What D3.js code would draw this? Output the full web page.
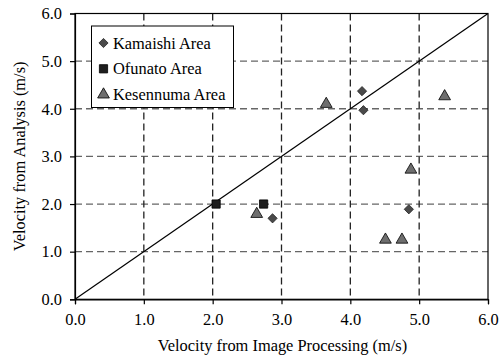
<!DOCTYPE html>
<html><head><meta charset="utf-8">
<script src="https://cdn.jsdelivr.net/npm/d3@7"></script>
<style>body{margin:0;background:#fff}svg{display:block}text{font-family:"Liberation Serif","Times New Roman",serif;fill:#000}</style>
</head><body><svg id="c" width="504" height="357"></svg>
<script>
const kamaishiX = [4.17, 4.19, 2.87, 4.85];
const kamaishiY = [4.37, 3.97, 1.70, 1.89];
const ofunatoX = [2.05, 2.74];
const ofunatoY = [2.00, 2.00];
const kesennumaX = [3.65, 5.37, 4.88, 2.64, 4.51, 4.75];
const kesennumaY = [4.10, 4.26, 2.72, 1.79, 1.25, 1.25];
const xTicks = [0, 1, 2, 3, 4, 5, 6];
const yTicks = [0, 1, 2, 3, 4, 5, 6];
const seriesNames = ["Kamaishi Area", "Ofunato Area", "Kesennuma Area"];

const FS = 16.4;
const svg = d3.select("#c");
const L = 75, R = 488, T = 13.5, B = 299.3;
const x = d3.scaleLinear().domain([0, 6]).range([L, R]);
const y = d3.scaleLinear().domain([0, 6]).range([B, T]);

// grid
svg.append("g").selectAll("line").data(yTicks.filter(d => d > 0 && d < 6)).join("line")
  .attr("x1", L).attr("x2", R).attr("y1", d => y(d)).attr("y2", d => y(d))
  .attr("stroke", "#666").attr("stroke-width", 1.3).attr("stroke-dasharray", "7,4");
svg.append("g").selectAll("line").data(xTicks.filter(d => d > 0 && d < 6)).join("line")
  .attr("y1", T).attr("y2", B).attr("x1", d => x(d)).attr("x2", d => x(d))
  .attr("stroke", "#222").attr("stroke-width", 1.3).attr("stroke-dasharray", "7,4");

// frame
svg.append("rect").attr("x", L).attr("y", T).attr("width", R - L).attr("height", B - T)
  .attr("fill", "none").attr("stroke", "#000").attr("stroke-width", 1.2);

// axes
const fmt = d3.format(".1f");
const xa = svg.append("g").attr("transform", `translate(0,${B})`)
  .call(d3.axisBottom(x).tickValues(xTicks).tickFormat(fmt).tickSize(5).tickPadding(9));
const ya = svg.append("g").attr("transform", `translate(${L},0)`)
  .call(d3.axisLeft(y).tickValues(yTicks).tickFormat(fmt).tickSize(5).tickPadding(8));
[xa, ya].forEach(a => {
  a.attr("font-family", null).attr("font-size", null);
  a.select(".domain").attr("stroke", "#000").attr("stroke-width", 1.2);
  a.selectAll(".tick line").attr("stroke", "#000").attr("stroke-width", 1.2);
  a.selectAll("text").attr("font-size", FS).attr("fill", "#000");
});

// diagonal
svg.append("defs").append("clipPath").attr("id", "clip").append("rect")
  .attr("x", L).attr("y", T).attr("width", R - L).attr("height", B - T);
svg.append("line").attr("clip-path", "url(#clip)")
  .attr("x1", x(0)).attr("y1", y(0)).attr("x2", x(6)).attr("y2", y(6))
  .attr("stroke", "#000").attr("stroke-width", 1.2);

// markers
const symDiamond = d3.symbol().type(d3.symbolDiamond2).size(54);
const symSquare = d3.symbol().type(d3.symbolSquare).size(68);
const symTri = d3.symbol().type(d3.symbolTriangle).size(60);
const styles = [
  {sym: symDiamond, fill: "#4a4a4a", stroke: "#222"},
  {sym: symSquare, fill: "#1e1e1e", stroke: "#000"},
  {sym: symTri, fill: "#6e6e6e", stroke: "#000"}
];
const series = [
  {xs: kamaishiX, ys: kamaishiY},
  {xs: ofunatoX, ys: ofunatoY},
  {xs: kesennumaX, ys: kesennumaY}
];
series.forEach((s, i) => {
  const st = styles[i];
  svg.append("g").selectAll("path").data(s.xs.map((v, j) => [v, s.ys[j]])).join("path")
    .attr("d", st.sym()).attr("transform", d => `translate(${x(d[0])},${y(d[1])})`)
    .attr("fill", st.fill).attr("stroke", st.stroke).attr("stroke-width", 0.8);
});

// legend
const lg = svg.append("g");
lg.append("rect").attr("x", 91.5).attr("y", 26).attr("width", 142).attr("height", 81.5)
  .attr("fill", "#fff").attr("stroke", "#000").attr("stroke-width", 1);
seriesNames.forEach((n, i) => {
  const cy = 43 + i * 25.8;
  lg.append("path").attr("d", styles[i].sym()).attr("transform", `translate(103.5,${cy})`)
    .attr("fill", styles[i].fill).attr("stroke", styles[i].stroke).attr("stroke-width", 0.8);
  lg.append("text").attr("x", 113).attr("y", cy + 5.5).attr("font-size", FS).text(n);
});

// axis titles
svg.append("text").attr("x", (L + R) / 2 + 1).attr("y", 351).attr("text-anchor", "middle")
  .attr("font-size", FS).text("Velocity from Image Processing (m/s)");
svg.append("text").attr("transform", `translate(25,${(T + B) / 2}) rotate(-90)`)
  .attr("text-anchor", "middle").attr("font-size", FS).text("Velocity from Analysis (m/s)");
</script></body></html>
